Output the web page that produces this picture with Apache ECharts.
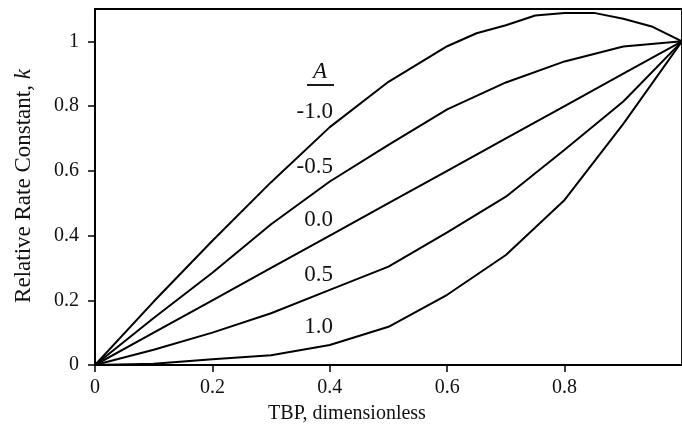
<!DOCTYPE html>
<html>
<head>
<meta charset="utf-8">
<script src="https://cdn.jsdelivr.net/npm/echarts@6/dist/echarts.min.js"></script>
<style>html,body{margin:0;padding:0;background:#fff}#c{width:682px;height:441px}</style>
</head>
<body>
<div id="c"></div>
<script>
// Data
var xTop = [0, 0.1, 0.2, 0.3, 0.4, 0.5, 0.6, 0.65, 0.7, 0.75, 0.8, 0.85, 0.9, 0.95, 1.0];
var kAm10 = [0, 0.196, 0.384, 0.565, 0.735, 0.875, 0.985, 1.025, 1.05, 1.08, 1.088, 1.088, 1.07, 1.045, 1.0];
var xTbp = [0, 0.1, 0.2, 0.3, 0.4, 0.5, 0.6, 0.7, 0.8, 0.9, 1.0];
var kAm05 = [0, 0.145, 0.285, 0.435, 0.567, 0.68, 0.79, 0.873, 0.938, 0.984, 1.0];
var kA00 = [0, 0.1, 0.2, 0.3, 0.4, 0.5, 0.6, 0.7, 0.8, 0.9, 1.0];
var kA05 = [0, 0.047, 0.10, 0.16, 0.232, 0.304, 0.41, 0.52, 0.665, 0.814, 1.0];
var kA10 = [0, 0.004, 0.018, 0.03, 0.062, 0.118, 0.217, 0.34, 0.51, 0.745, 1.0];
var seriesNames = ['-1.0', '-0.5', '0.0', '0.5', '1.0'];
var xTicks = [0, 0.2, 0.4, 0.6, 0.8];
var yTicks = [0, 0.2, 0.4, 0.6, 0.8, 1.0];

function pairs(xs, ys) { return xs.map(function (x, i) { return [x, ys[i]]; }); }
var curves = [pairs(xTop, kAm10), pairs(xTbp, kAm05), pairs(xTbp, kA00), pairs(xTbp, kA05), pairs(xTbp, kA10)];

var FONT = '"Liberation Serif", "DejaVu Serif", serif';
var chart = echarts.init(document.getElementById('c'), null, {renderer: 'canvas'});

var labelPos = [[333, 112], [333, 167], [333, 220], [333, 275], [333, 327]];

chart.setOption({
  animation: false,
  backgroundColor: '#fff',
  grid: {left: 95, right: -3, top: 9, bottom: 76, show: true, borderColor: '#000', borderWidth: 1.8, backgroundColor: 'transparent'},
  xAxis: {
    type: 'value', min: 0, max: 1.0,
    axisLine: {show: true, onZero: false, lineStyle: {color: '#000', width: 1.8}},
    axisTick: {show: true, inside: false, length: 7, customValues: xTicks, lineStyle: {color: '#000', width: 1.5}},
    axisLabel: {customValues: xTicks, margin: 13, fontFamily: FONT, fontSize: 20, color: '#111'},
    splitLine: {show: false}
  },
  yAxis: {
    type: 'value', min: 0, max: 1.1,
    axisLine: {show: true, onZero: false, lineStyle: {color: '#000', width: 1.8}},
    axisTick: {show: true, inside: false, length: 7, customValues: yTicks, lineStyle: {color: '#000', width: 1.5}},
    axisLabel: {customValues: yTicks, margin: 16, fontFamily: FONT, fontSize: 20, color: '#111'},
    splitLine: {show: false}
  },
  series: curves.map(function (d, i) {
    return {
      type: 'line', name: seriesNames[i], data: d, showSymbol: false, symbol: 'none',
      smooth: false, lineStyle: {color: '#000', width: 2}, clip: true
    };
  }),
  graphic: [
    {type: 'text', x: 347, y: 414, style: {text: 'TBP, dimensionless', font: '20px ' + FONT, fill: '#111', textAlign: 'center', textVerticalAlign: 'middle'}},
    {type: 'text', x: 24, y: 186, rotation: Math.PI / 2, style: {
      text: '{n|Relative Rate Constant, }{i|k}', textAlign: 'center', textVerticalAlign: 'middle', fill: '#111',
      rich: {n: {fontFamily: FONT, fontSize: 23, color: '#111'}, i: {fontFamily: FONT, fontSize: 23, fontStyle: 'italic', color: '#111'}}
    }},
    {type: 'text', x: 320, y: 72, style: {text: 'A', font: 'italic 23px ' + FONT, fill: '#111', textAlign: 'center', textVerticalAlign: 'middle'}},
    {type: 'line', shape: {x1: 307, y1: 85, x2: 334, y2: 85}, style: {stroke: '#000', lineWidth: 1.8}}
  ].concat(seriesNames.map(function (n, i) {
    return {type: 'text', x: labelPos[i][0], y: labelPos[i][1], style: {text: n, font: '23px ' + FONT, fill: '#111', textAlign: 'right', textVerticalAlign: 'middle'}};
  }))
});
</script>
</body>
</html>
